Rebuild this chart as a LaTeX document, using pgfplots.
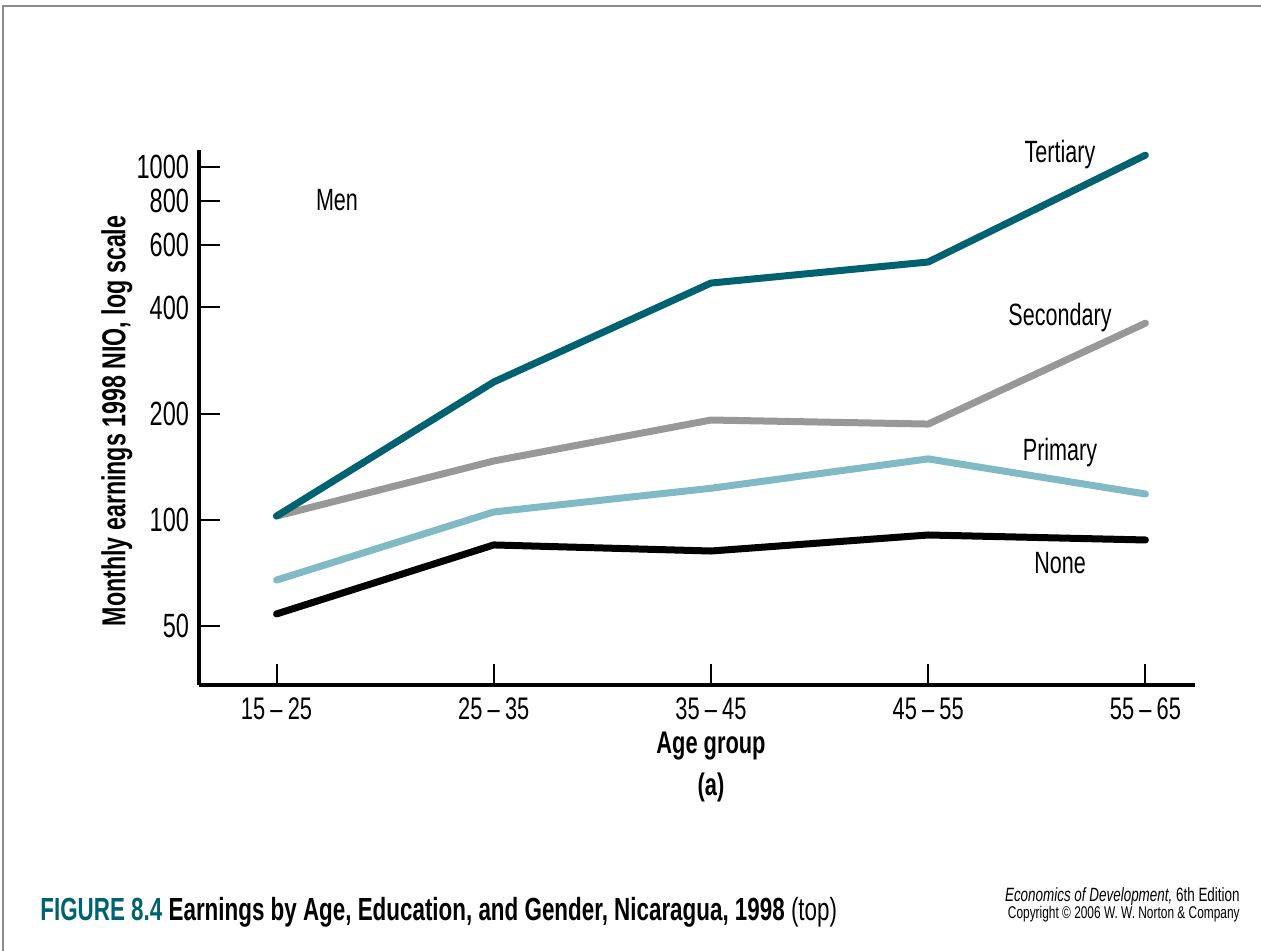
\documentclass[border=0pt]{standalone}
\usepackage{pgfplots}
\pgfplotsset{compat=1.18}
\usepackage{fontspec}
\setmainfont{Liberation Sans}[FakeStretch=0.7]

\definecolor{tealdark}{RGB}{0,98,112}
\definecolor{teallight}{RGB}{128,186,196}
\definecolor{midgray}{RGB}{152,152,152}
\definecolor{framegray}{RGB}{140,140,140}

% age groups at 0..4, monthly earnings (1998 NIO)
\pgfplotstableread{
x  none  primary  secondary  tertiary
0  54.2  67.6     102.6      102.6
1  85.0  105.4    147        246
2  81.7  123      192        469
3  90.7  149      187        538
4  87.8  118.5    361        1080
}\earnings

\begin{document}
\begin{tikzpicture}
\useasboundingbox (0,0) rectangle (630.5pt,-475.5pt);
\draw[framegray, line width=0.7pt] (1.5pt,-475.5pt) -- (1.5pt,-3pt) -- (630.5pt,-3pt);

\begin{axis}[
  at={(99.5pt,-342.5pt)}, anchor=south west,
  scale only axis,
  width=497.75pt, height=267.5pt,
  ymode=log,
  xmin=-0.357, xmax=4.226,
  ymin=34.1, ymax=1117,
  axis lines*=left,
  axis line style={line width=2pt},
  tick align=inside,
  major tick length=10.5pt,
  every tick/.style={line width=1pt, black},
  xtick={0,1,2,3,4},
  xticklabels={15\,--\,25, 25\,--\,35, 35\,--\,45, 45\,--\,55, 55\,--\,65},
  ytick={50,100,200,400,600,800,1000},
  yticklabels={50,100,200,400,600,800,1000},
  minor ytick={},
  log basis y=10,
  /pgf/number format/assume math mode=true,
  xticklabel style={font=\fontsize{15.6}{18}\selectfont, yshift=-3pt},
  yticklabel style={font=\fontsize{16.8}{19}\selectfont, xshift=-1.5pt},
  xlabel={Age group},
  xlabel style={at={(axis description cs:0.5143,-0.1140)}, anchor=center,
    font=\fontsize{15.6}{18}\selectfont\bfseries},
  ylabel={Monthly earnings 1998 NIO, log scale},
  ylabel style={at={(axis description cs:-0.0824,0.4935)}, anchor=center,
    font=\fontsize{16.6}{19}\selectfont\bfseries},
  every axis plot/.append style={line width=3.5pt, line cap=round, line join=round},
  clip=false,
]
\addplot[midgray] table[x=x, y=secondary] {\earnings};
\addplot[tealdark] table[x=x, y=tertiary] {\earnings};
\addplot[teallight] table[x=x, y=primary] {\earnings};
\addplot[black] table[x=x, y=none] {\earnings};

\node[font=\fontsize{15.4}{18}\selectfont] at (axis description cs:0.8649,0.9907) {Tertiary};
\node[font=\fontsize{15.4}{18}\selectfont] at (axis description cs:0.8649,0.686) {Secondary};
\node[font=\fontsize{15.4}{18}\selectfont] at (axis description cs:0.8649,0.4336) {Primary};
\node[font=\fontsize{15.4}{18}\selectfont] at (axis description cs:0.8649,0.228) {None};
\node[font=\fontsize{15.4}{18}\selectfont] at (axis description cs:0.1386,0.9065) {Men};
\node[font=\fontsize{15.6}{18}\selectfont\bfseries] at (axis description cs:0.5143,-0.1907) {(a)};
\end{axis}

\node[anchor=west, inner sep=0pt, font=\fontsize{16}{19}\selectfont] at (20pt,-456pt)
  {\textbf{\textcolor{tealdark}{FIGURE 8.4} Earnings by Age, Education, and Gender, Nicaragua, 1998} (top)};
\node[anchor=east, inner sep=0pt, font=\fontsize{9.6}{11}\selectfont] at (620pt,-448.5pt)
  {\textit{Economics of Development,} 6th Edition};
\node[anchor=east, inner sep=0pt, font=\fontsize{8.5}{10}\selectfont] at (620pt,-457.2pt)
  {Copyright © 2006 W. W. Norton \& Company};
\end{tikzpicture}
\end{document}
